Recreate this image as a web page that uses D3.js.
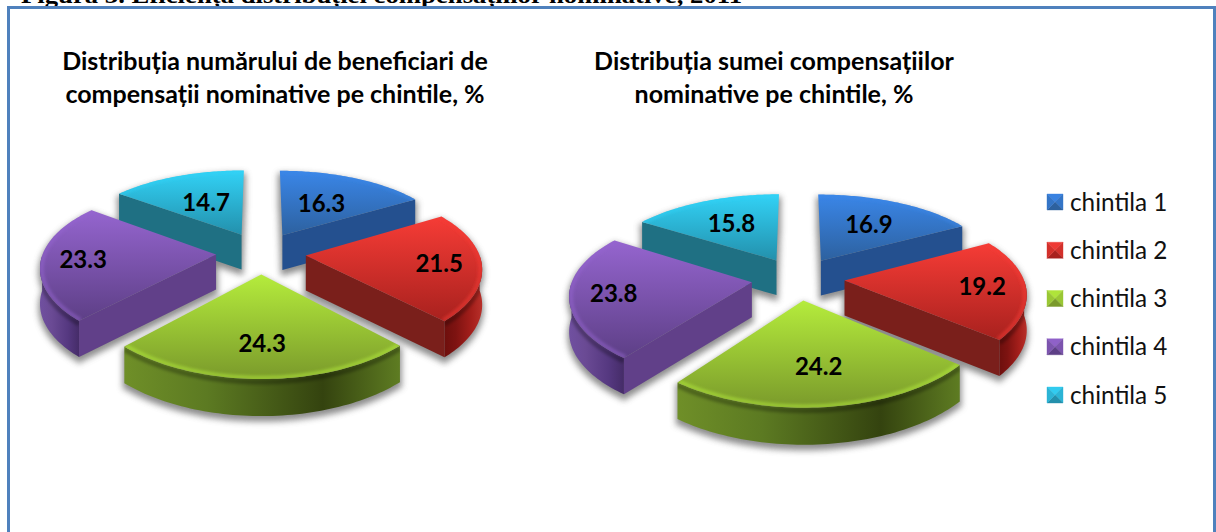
<!DOCTYPE html>
<html><head><meta charset="utf-8">
<script src="https://cdnjs.cloudflare.com/ajax/libs/d3/7.8.5/d3.min.js"></script>
<style>html,body{margin:0;padding:0;background:#fff}svg{display:block}text{font-family:Lato,"Open Sans",sans-serif}</style>
</head><body><svg id="c" width="1216" height="532"></svg>
<script>
const categories = ["chintila 1","chintila 2","chintila 3","chintila 4","chintila 5"];
const beneficiari = [16.3,21.5,24.3,23.3,14.7];
const sume = [16.9,19.2,24.2,23.8,15.8];
const titleLeft = ["Distribuția numărului de beneficiari de","compensații nominative pe chintile, %"];
const titleRight = ["Distribuția sumei compensațiilor","nominative pe chintile, %"];
const heading = "Figura 3. Eficiența distribuției compensațiilor nominative, 2011";

const topLight = ["#3a86e8","#f63c36","#b5ec3c","#9565cf","#32d2f6"];
const topDark  = ["#2d619f","#a8211e","#7a9a2b","#5d3f86","#2390ac"];
const sideFace = ["#24508f","#7a1f1b","#5b7a22","#614089","#1f7083"];
const rimStops = [
  ["#2a5a9c","#24508f","#24508f","#2a5a9c"],
  ["#6e0f0d","#7e1311","#a51f1b","#b8302a"],
  ["#6f8f28","#5c7a22","#34430f","#5e7c22"],
  ["#7050a0","#6a4a94","#553880","#452c68"],
  ["#26788e","#1f7083","#1f7083","#26788e"]
];

const svg = d3.select("#c");
const defs = svg.append("defs");
defs.append("filter").attr("id","soft").attr("x","-20%").attr("y","-20%").attr("width","140%").attr("height","140%")
  .append("feGaussianBlur").attr("stdDeviation",3);
defs.append("filter").attr("id","soft1").attr("x","-20%").attr("y","-20%").attr("width","140%").attr("height","140%")
  .append("feGaussianBlur").attr("stdDeviation",1.6);

svg.append("text").attr("x",21).attr("y",3).attr("font-size",22.5).attr("font-weight",700)
  .style("font-family","'Liberation Serif',serif").attr("textLength",721).attr("lengthAdjust","spacingAndGlyphs").text(heading);
svg.append("rect").attr("x",8.5).attr("y",7.5).attr("width",1206).attr("height",560)
  .attr("fill","#fff").attr("stroke","#4f81bd").attr("stroke-width",3);

const pie = d3.pie().sort(null).value(d=>d).startAngle(0).endAngle(2*Math.PI);
const line = d3.line();
const PAINT = [4,0,3,1,2];
const EXPLODE = .26, KY = .16, KX = .135, DEPTH = 35;

function drawPie(id, values, title, titleX, cfg){
  const {cx,cy,R,T,labelR} = cfg;
  const g = svg.append("g");
  const proj = (x,y,z=0)=>{
    const sx=1/(1-KX*y), sy=1/(1-KY*y);
    return [cx+R*x*sx, cy+T*y*sy+z*DEPTH*Math.pow(sy,.25)];
  };
  const arcs = pie(values);
  const shapes = arcs.map((a,i)=>{
    const mid=(a.startAngle+a.endAngle)/2;
    const ox=EXPLODE*Math.sin(mid), oy=-EXPLODE*Math.cos(mid);
    const angle=d3.scaleLinear().domain([0,1]).range([a.startAngle,a.endAngle]);
    const ts=d3.range(0,1.0001,1/64);
    const pt=(t,r,z)=>proj(ox+r*Math.sin(angle(t)),oy-r*Math.cos(angle(t)),z);
    const rim=(r,z)=>ts.map(t=>pt(t,r,z));
    const frontTs=ts.filter(t=>Math.cos(angle(t))<0);
    const frontRim=(r,z)=>frontTs.map(t=>pt(t,r,z));
    return {i,a,mid,ox,oy,rim,frontRim,apex:z=>proj(ox,oy,z)};
  });
  const closed = pts=>line(pts)+"Z";
  const faces = s=>{
    const t=s.rim(1,0), b=s.rim(1,1), A=s.apex(0), B=s.apex(1);
    const ft=s.frontRim(1,0), fb=s.frontRim(1,1);
    return {
      top:closed([A,...t]),
      outer:ft.length?closed([...ft,...fb.slice().reverse()]):null,
      sideA:Math.sin(s.a.startAngle)<-1e-6?closed([A,t[0],b[0],B]):null,
      sideB:Math.sin(s.a.endAngle)>1e-6?closed([A,t[t.length-1],b[b.length-1],B]):null,
      backWall:closed([...t,...b.slice().reverse()]),
      t,ft
    };
  };
  // shadows
  const sh=g.append("g").attr("filter","url(#soft)").attr("transform","translate(0,4)").attr("opacity",.75);
  shapes.forEach(s=>{const f=faces(s);
    [f.top,f.backWall,closed([s.apex(0),s.rim(1,0)[0],s.rim(1,1)[0],s.apex(1)]),
     closed([s.apex(0),s.rim(1,0)[64],s.rim(1,1)[64],s.apex(1)])]
      .forEach(p=>sh.append("path").attr("d",p).attr("fill","#666").attr("stroke","#666").attr("stroke-width",3));
  });
  PAINT.forEach(i=>{
    const s=shapes[i], f=faces(s);
    const ys=f.t.map(p=>p[1]).concat(s.apex(0)[1]);
    const tg=defs.append("linearGradient").attr("id",`${id}t${i}`).attr("gradientUnits","userSpaceOnUse")
      .attr("x1",0).attr("x2",0).attr("y1",d3.min(ys)).attr("y2",d3.max(ys));
    tg.append("stop").attr("offset",0).attr("stop-color",topLight[i]);
    tg.append("stop").attr("offset",1).attr("stop-color",topDark[i]);
    if(f.sideA) g.append("path").attr("d",f.sideA).attr("fill",sideFace[i]);
    if(f.sideB) g.append("path").attr("d",f.sideB).attr("fill",sideFace[i]);
    if(f.outer){
      const xs=f.ft.map(p=>p[0]);
      const wg=defs.append("linearGradient").attr("id",`${id}w${i}`).attr("gradientUnits","userSpaceOnUse")
        .attr("x1",d3.min(xs)).attr("x2",d3.max(xs)).attr("y1",0).attr("y2",0);
      const offs=[0,.3,.72,1];
      rimStops[i].forEach((c,j)=>wg.append("stop").attr("offset",offs[j]).attr("stop-color",c));
      g.append("path").attr("d",f.outer).attr("fill",`url(#${id}w${i})`);
      // dark rounded shoulder on the wall, below the rim
      defs.append("clipPath").attr("id",`${id}c${i}`).append("path").attr("d",f.outer);
      g.append("g").attr("clip-path",`url(#${id}c${i})`).append("path")
        .attr("d",line(s.frontRim(1,.08))).attr("fill","none").attr("stroke","#000").attr("stroke-opacity",.28)
        .attr("stroke-width",5).attr("filter","url(#soft1)");
    }
    g.append("path").attr("d",f.top).attr("fill",`url(#${id}t${i})`);
    // light bevel on the rim of the top face
    defs.append("clipPath").attr("id",`${id}d${i}`).append("path").attr("d",f.top);
    g.append("g").attr("clip-path",`url(#${id}d${i})`).append("path")
      .attr("d",line(s.rim(.99,0))).attr("fill","none").attr("stroke",topLight[i]).attr("stroke-opacity",.55)
      .attr("stroke-width",4).attr("filter","url(#soft1)");
  });
  // value labels
  shapes.forEach(s=>{
    const r=labelR[s.i];
    const p=proj(s.ox+r*Math.sin(s.mid),s.oy-r*Math.cos(s.mid));
    g.append("text").attr("x",p[0]).attr("y",p[1]).attr("dy",".36em").attr("text-anchor","middle")
      .attr("font-size",24).attr("font-weight",700).attr("fill","#000").text(values[s.i].toFixed(1));
  });
  // title
  title.forEach((t,i)=>g.append("text").attr("x",titleX).attr("y",70+i*33).attr("text-anchor","middle")
    .attr("font-size",25).attr("font-weight",700).attr("fill","#000").text(t));
}

drawPie("a",beneficiari,titleLeft,275,{cx:261,cy:252.8,R:173,T:80,labelR:[.52,.76,.7,.76,.52]});
drawPie("b",sume,titleRight,774,{cx:798,cy:278.5,R:179,T:82,labelR:[.6,.76,.66,.76,.6]});

// legend
const ly=d3.scalePoint().domain(categories).range([202,395]);
const SW=16;
const leg=svg.append("g");
categories.forEach((c,i)=>{
  const g=leg.append("g").attr("transform",`translate(1047,${ly(c)-SW/2})`);
  const mix=d3.interpolateRgb(topLight[i],topDark[i]);
  const m=[SW/2,SW/2];
  [[[0,0],[SW,0],m,mix(.1)],[[SW,0],[SW,SW],m,mix(.45)],[[SW,SW],[0,SW],m,mix(1)],[[0,SW],[0,0],m,mix(.45)]]
    .forEach(f=>g.append("path").attr("d",d3.line()(f.slice(0,3))+"Z").attr("fill",f[3]).attr("stroke",f[3]).attr("stroke-width",.4));
  leg.append("text").attr("x",1070).attr("y",ly(c)).attr("dy",".36em").attr("font-size",24.3).attr("fill","#111").text(c);
});
</script></body></html>
